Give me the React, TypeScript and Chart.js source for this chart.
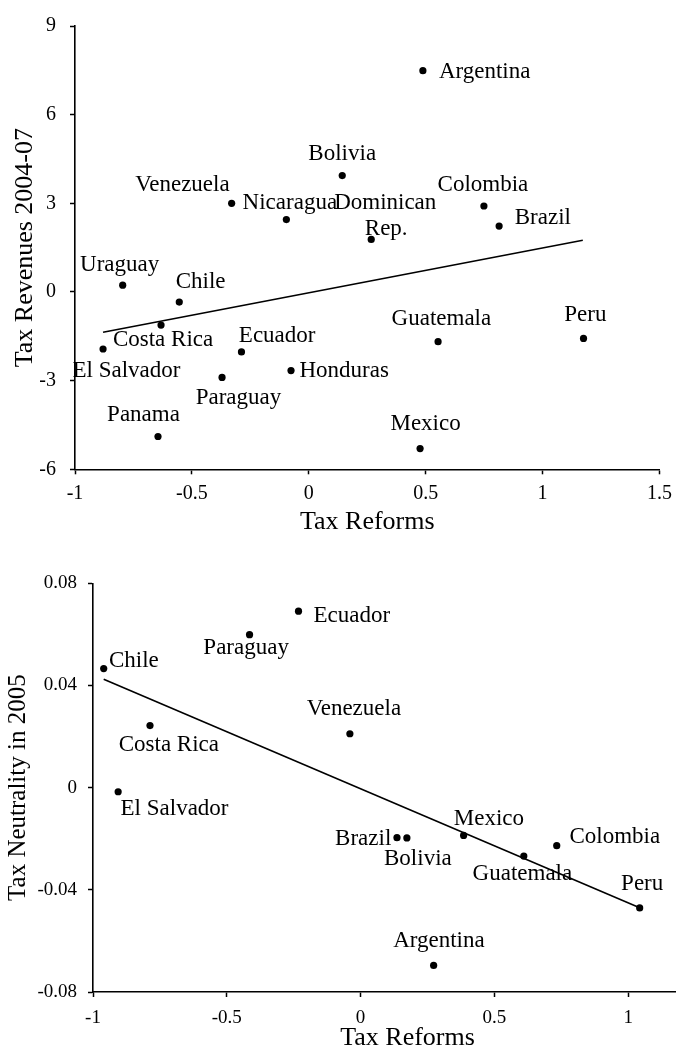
import React, { useEffect, useRef } from 'react';
import { Chart, registerables } from 'chart.js';

Chart.register(...registerables);

// ---------- Top chart data ----------
const countriesTop = ['Argentina', 'Bolivia', 'Colombia', 'Brazil', 'Dominican\nRep.', 'Venezuela', 'Nicaragua', 'Uraguay', 'Chile', 'Costa Rica', 'El Salvador', 'Ecuador', 'Paraguay', 'Honduras', 'Panama', 'Guatemala', 'Peru', 'Mexico'];
const reformsTop = [0.488, 0.143, 0.749, 0.814, 0.267, -0.330, -0.096, -0.796, -0.554, -0.632, -0.880, -0.288, -0.371, -0.076, -0.645, 0.553, 1.175, 0.476];
const revenuesTop = [7.49, 3.94, 2.91, 2.23, 1.78, 3.0, 2.45, 0.23, -0.34, -1.12, -1.93, -2.03, -2.89, -2.66, -4.89, -1.68, -1.57, -5.30];
const fitTopX = [-0.88, 1.172];
const fitTopY = [-1.36, 1.75];
const xTicksTop = [-1, -0.5, 0, 0.5, 1, 1.5];
const yTicksTop = [-6, -3, 0, 3, 6, 9];

// ---------- Bottom chart data ----------
const countriesBottom = ['Ecuador', 'Paraguay', 'Chile', 'Costa Rica', 'Venezuela', 'El Salvador', 'Brazil', 'Bolivia', 'Mexico', 'Colombia', 'Guatemala', 'Peru', 'Argentina'];
const reformsBottom = [-0.232, -0.415, -0.960, -0.787, -0.040, -0.906, 0.136, 0.173, 0.385, 0.733, 0.610, 1.043, 0.273];
const neutralityBottom = [0.0691, 0.0599, 0.0466, 0.0243, 0.0211, -0.0016, -0.0196, -0.0197, -0.0187, -0.0227, -0.0268, -0.0471, -0.0696];
const fitBottomX = [-0.96, 1.043];
const fitBottomY = [0.0424, -0.047];
const xTicksBottom = [-1, -0.5, 0, 0.5, 1];
const yTicksBottom = [-0.08, -0.04, 0, 0.04, 0.08];

// ---------- label placement (style: pixel offsets from the dot) ----------
type Place = [number, number, CanvasTextAlign];
const placeTop: Place[] = [
  [16, 7, 'left'], [0, -16, 'center'], [-1, -15, 'center'], [15.6, -2.4, 'left'],
  [14, -30, 'center'], [-2, -12, 'right'], [3.5, -10.7, 'center'], [-3, -14, 'center'],
  [-3.6, -14, 'left'], [2, 21, 'center'], [-30.6, 28, 'left'], [-2.6, -10, 'left'],
  [-26.4, 26.4, 'left'], [8.4, 6.7, 'left'], [-14.5, -15, 'center'], [3.3, -17, 'center'],
  [1.8, -17, 'center'], [5.5, -18.7, 'center'],
];
const placeBottom: Place[] = [
  [15, 11, 'left'], [-3.4, 19, 'center'], [5.3, -1.6, 'left'], [-31.3, 25.4, 'left'],
  [4, -18.3, 'center'], [2.4, 23.7, 'left'], [-5.7, 7.7, 'right'], [11, 27.3, 'center'],
  [25.3, -10, 'center'], [12.7, -2.6, 'left'], [-1.4, 24.3, 'center'], [2.5, -17.7, 'center'],
  [5.3, -18.3, 'center'],
];

const SERIF = '"Liberation Serif", "Times New Roman", serif';

interface Cfg {
  width: number;
  height: number;
  names: string[];
  xs: number[];
  ys: number[];
  fitX: number[];
  fitY: number[];
  xTicks: number[];
  yTicks: number[];
  xMin: number;
  xMax: number;
  yMin: number;
  yMax: number;
  places: Place[];
  padTop: number;
  padRight: number;
  yAxisWidth: number;
  xAxisHeight: number;
  xTitle: string;
  yTitle: string;
  xTitleX: number | null;
  xTitleBaseline: number;
  yTitleBaseline: number;
  yTitleSize: number;
  tickSize: number;
  xTickPad: number;
  yTickPad: number;
}

function buildChart(canvas: HTMLCanvasElement, c: Cfg) {
  const labelPlugin = {
    id: 'countryLabels',
    afterDatasetsDraw(chart: any) {
      const ctx = chart.ctx;
      const meta = chart.getDatasetMeta(0);
      ctx.save();
      ctx.fillStyle = '#000';
      ctx.font = `23px ${SERIF}`;
      ctx.textBaseline = 'alphabetic';
      meta.data.forEach((pt: any, i: number) => {
        const [dx, dy, align] = c.places[i];
        ctx.textAlign = align;
        c.names[i].split('\n').forEach((ln, j) => {
          ctx.fillText(ln, pt.x + dx + j * 1, pt.y + dy + j * 26);
        });
      });
      ctx.restore();
    },
  };
  const titlePlugin = {
    id: 'axisTitles',
    afterDraw(chart: any) {
      const ctx = chart.ctx;
      const area = chart.chartArea;
      ctx.save();
      ctx.fillStyle = '#000';
      ctx.textBaseline = 'alphabetic';
      ctx.textAlign = 'center';
      ctx.font = `26px ${SERIF}`;
      const tx = c.xTitleX == null ? (area.left + area.right) / 2 : c.xTitleX;
      ctx.fillText(c.xTitle, tx, c.xTitleBaseline);
      ctx.font = `${c.yTitleSize}px ${SERIF}`;
      ctx.translate(c.yTitleBaseline, (area.top + area.bottom) / 2);
      ctx.rotate(-Math.PI / 2);
      ctx.fillText(c.yTitle, 0, 0);
      ctx.restore();
    },
  };

  const axisCommon = (ticks: number[], pad: number) => ({
    type: 'linear' as const,
    afterBuildTicks: (axis: any) => {
      axis.ticks = ticks.map((v) => ({ value: v }));
    },
    grid: {
      display: true,
      drawOnChartArea: false,
      drawTicks: true,
      tickLength: 5,
      tickColor: '#000',
      tickWidth: 1.5,
      color: '#000',
    },
    border: { display: true, color: '#000', width: 1.6 },
    ticks: {
      color: '#000',
      font: { family: SERIF, size: c.tickSize },
      padding: pad,
      maxRotation: 0,
      autoSkip: false,
      callback: (v: any) => String(v),
    },
  });

  return new Chart(canvas, {
    type: 'scatter',
    data: {
      datasets: [
        {
          data: c.xs.map((x, i) => ({ x, y: c.ys[i] })),
          pointRadius: 3.6,
          pointBackgroundColor: '#000',
          pointBorderWidth: 0,
          showLine: false,
        },
        {
          data: c.fitX.map((x, i) => ({ x, y: c.fitY[i] })),
          showLine: true,
          pointRadius: 0,
          borderColor: '#000',
          borderWidth: 1.6,
          fill: false,
        },
      ],
    },
    options: {
      animation: false,
      responsive: false,
      devicePixelRatio: 1,
      events: [],
      layout: { padding: { left: 0, top: c.padTop, right: c.padRight, bottom: 0 } },
      plugins: { legend: { display: false }, tooltip: { enabled: false } },
      scales: {
        x: {
          ...axisCommon(c.xTicks, c.xTickPad),
          min: c.xMin,
          max: c.xMax,
          afterFit: (s: any) => {
            s.height = c.xAxisHeight;
          },
        },
        y: {
          ...axisCommon(c.yTicks, c.yTickPad),
          min: c.yMin,
          max: c.yMax,
          afterFit: (s: any) => {
            s.width = c.yAxisWidth;
          },
        },
      },
    } as any,
    plugins: [labelPlugin, titlePlugin],
  });
}

function ScatterPanel({ cfg, top }: { cfg: Cfg; top: number }) {
  const ref = useRef<HTMLCanvasElement | null>(null);
  useEffect(() => {
    if (!ref.current) return;
    const ch = buildChart(ref.current, cfg);
    return () => ch.destroy();
  }, [cfg]);
  return (
    <canvas
      ref={ref}
      width={cfg.width}
      height={cfg.height}
      style={{ position: 'absolute', left: 0, top, width: cfg.width, height: cfg.height, display: 'block' }}
    />
  );
}

const topCfg: Cfg = {
  width: 679,
  height: 530,
  names: countriesTop,
  xs: reformsTop,
  ys: revenuesTop,
  fitX: fitTopX,
  fitY: fitTopY,
  xTicks: xTicksTop,
  yTicks: yTicksTop,
  xMin: -1,
  xMax: 1.5,
  yMin: -6,
  yMax: 9,
  places: placeTop,
  padTop: 16,
  padRight: 13.3,
  yAxisWidth: 75,
  xAxisHeight: 60.7,
  xTitle: 'Tax Reforms',
  yTitle: 'Tax Revenues 2004-07',
  xTitleX: null,
  xTitleBaseline: 529,
  yTitleBaseline: 32,
  yTitleSize: 26,
  tickSize: 20,
  xTickPad: 7,
  yTickPad: 14,
};

const bottomCfg: Cfg = {
  width: 679,
  height: 527,
  names: countriesBottom,
  xs: reformsBottom,
  ys: neutralityBottom,
  fitX: fitBottomX,
  fitY: fitBottomY,
  xTicks: xTicksBottom,
  yTicks: yTicksBottom,
  xMin: -1,
  xMax: 1.175,
  yMin: -0.08,
  yMax: 0.08,
  places: placeBottom,
  padTop: 53.3,
  padRight: 0,
  yAxisWidth: 93,
  xAxisHeight: 65,
  xTitle: 'Tax Reforms',
  yTitle: 'Tax Neutrality in 2005',
  xTitleX: 407.5,
  xTitleBaseline: 515,
  yTitleBaseline: 25,
  yTitleSize: 25,
  tickSize: 19,
  xTickPad: 10,
  yTickPad: 11,
};

export default function App() {
  return (
    <div style={{ position: 'absolute', left: 0, top: 0, width: 679, height: 1057, background: '#fff', overflow: 'hidden' }}>
      <ScatterPanel cfg={topCfg} top={0} />
      <ScatterPanel cfg={bottomCfg} top={530} />
    </div>
  );
}
